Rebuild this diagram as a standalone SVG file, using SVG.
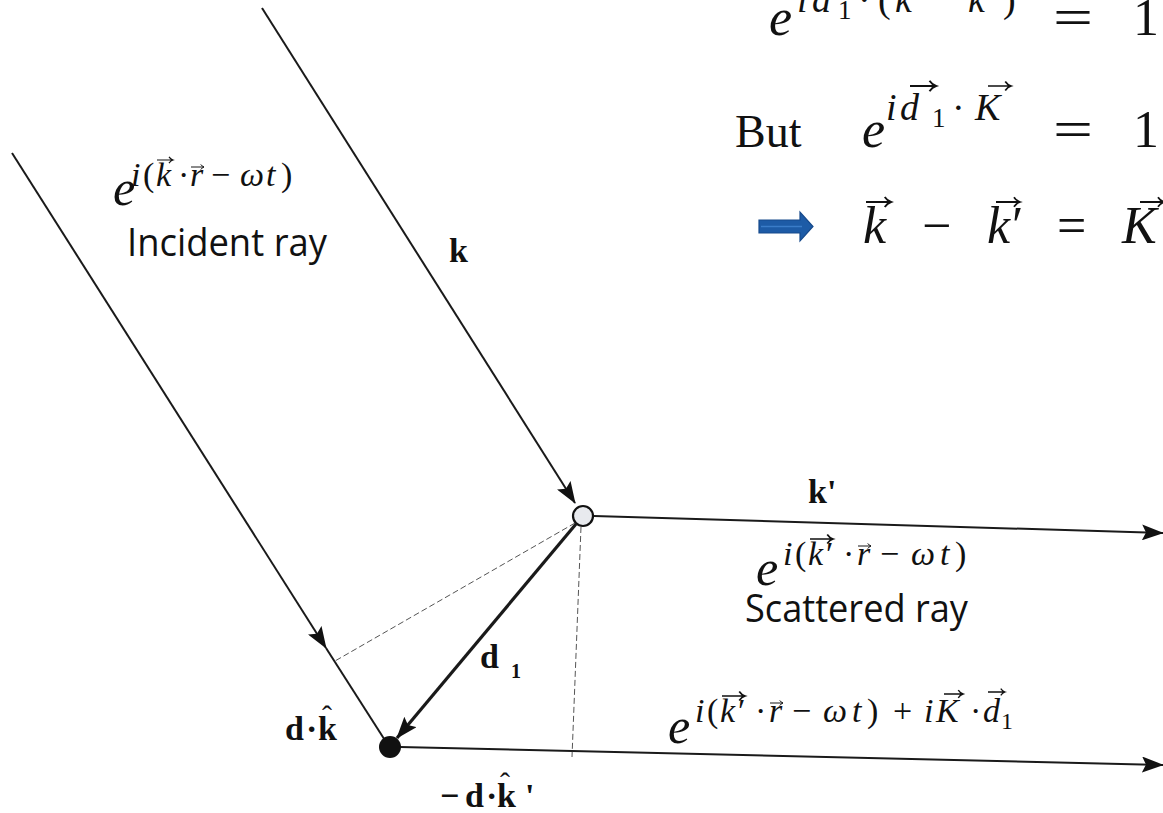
<svg xmlns="http://www.w3.org/2000/svg" xmlns:xlink="http://www.w3.org/1999/xlink" width="1163" height="813" viewBox="0 0 1163 813">
<style>
.m{font-family:"Liberation Serif",serif;font-style:italic;fill:#111}
.u{font-family:"Liberation Serif",serif;font-style:normal;fill:#111}
.b{font-family:"Liberation Serif",serif;font-weight:bold;fill:#111}
.s{font-family:"Open Sans",sans-serif;fill:#111}
.ln{stroke:#1a1a1a;stroke-width:2;fill:none}
.dash{stroke:#555;stroke-width:1;stroke-dasharray:6 3;fill:none}
</style>
<defs>
<marker id="ah" markerUnits="userSpaceOnUse" viewBox="0 0 22 16" refX="21" refY="8" markerWidth="22" markerHeight="16" orient="auto">
<path d="M0,0 L22,8 L0,16 L4,8 z" fill="#111"/>
</marker>
<path id="vec" d="M0,0 H20 M15,-4 Q17,-1 20,0 Q17,1 15,4" stroke="#111" stroke-width="1.5" fill="none"/>
</defs>
<rect width="1163" height="813" fill="#fff"/>

<g id="connectors">
<path class="ln" d="M12,153 L326,648" marker-end="url(#ah)"/>
<path class="ln" d="M326,648 L388,745"/>
<path class="ln" d="M262,8 L575,503" marker-end="url(#ah)"/>
<path class="ln" d="M594,516 L1163,533" marker-end="url(#ah)"/>
<path class="ln" d="M400,747 L1163,765" marker-end="url(#ah)"/>
<path class="ln" style="stroke-width:3.2" d="M576,524 L397,738" marker-end="url(#ah)"/>
<path class="dash" d="M575,523 L335,661"/>
<path class="dash" d="M581,527 L572,757"/>
</g>

<g id="scatterer1">
<circle cx="583" cy="516" r="10" fill="#e8eaee" stroke="#111" stroke-width="2.2"/>
</g>
<g id="scatterer0">
<circle cx="390" cy="747" r="11" fill="#111"/>
</g>

<g id="label-k"><text class="b" x="449" y="262" font-size="34">k</text></g>
<g id="label-kprime"><text class="b" x="808" y="503" font-size="34">k'</text></g>
<g id="label-d1">
<text class="b" x="480" y="668" font-size="34">d</text>
<text class="b" x="511" y="678" font-size="20">1</text>
</g>
<g id="label-dk">
<text class="b" font-size="34" y="740"><tspan x="285">d</tspan><tspan x="306">·</tspan><tspan x="318">k</tspan></text>
<text class="u" font-size="30" x="322" y="726">ˆ</text>
</g>
<g id="label-mdk">
<text class="b" font-size="34" y="807"><tspan x="440">−</tspan><tspan x="465">d</tspan><tspan x="486">·</tspan><tspan x="497">k</tspan><tspan x="525">'</tspan></text>
<text class="u" font-size="30" x="500" y="793">ˆ</text>
</g>

<g id="incident">
<text class="m" x="113" y="205" font-size="50">e</text>
<text font-size="34" y="186"><tspan class="m" x="131">i</tspan><tspan class="u" x="143">(</tspan><tspan class="m" x="156">k</tspan><tspan class="u" x="178">·</tspan><tspan class="m" x="190">r</tspan><tspan class="u" x="211">−</tspan><tspan class="m" x="240">ω</tspan><tspan class="m" x="266">t</tspan><tspan class="u" x="281">)</tspan></text>
<use xlink:href="#vec" transform="translate(157,160) scale(0.8)"/>
<use xlink:href="#vec" transform="translate(191,167) scale(0.65)"/>
<text class="s" x="127" y="256" font-size="38" textLength="200" lengthAdjust="spacingAndGlyphs">Incident ray</text>
</g>

<g id="scattered">
<text class="m" x="756" y="585" font-size="50">e</text>
<text font-size="34" y="565"><tspan class="m" x="783">i</tspan><tspan class="u" x="795">(</tspan><tspan class="m" x="808">k</tspan><tspan class="u" x="826">′</tspan><tspan class="u" x="843">·</tspan><tspan class="m" x="857">r</tspan><tspan class="u" x="880">−</tspan><tspan class="m" x="911">ω</tspan><tspan class="m" x="940">t</tspan><tspan class="u" x="955">)</tspan></text>
<use xlink:href="#vec" transform="translate(810,539) scale(1.15)"/>
<use xlink:href="#vec" transform="translate(858,546) scale(0.65)"/>
<text class="s" x="745" y="622" font-size="38" textLength="223" lengthAdjust="spacingAndGlyphs">Scattered ray</text>
</g>

<g id="phase-shifted">
<text class="m" x="668" y="743" font-size="50">e</text>
<text font-size="34" y="722"><tspan class="m" x="695">i</tspan><tspan class="u" x="707">(</tspan><tspan class="m" x="720">k</tspan><tspan class="u" x="738">′</tspan><tspan class="u" x="755">·</tspan><tspan class="m" x="769">r</tspan><tspan class="u" x="792">−</tspan><tspan class="m" x="823">ω</tspan><tspan class="m" x="852">t</tspan><tspan class="u" x="867">)</tspan><tspan class="u" x="893">+</tspan><tspan class="m" x="924">i</tspan><tspan class="m" x="936">K</tspan><tspan class="u" x="970">·</tspan><tspan class="m" x="983">d</tspan></text>
<text class="u" x="1001" y="729" font-size="24">1</text>
<use xlink:href="#vec" transform="translate(722,696) scale(1.15)"/>
<use xlink:href="#vec" transform="translate(770,703) scale(0.65)"/>
<use xlink:href="#vec" transform="translate(944,694) scale(0.95)"/>
<use xlink:href="#vec" transform="translate(988,692) scale(0.85)"/>
</g>

<g id="eq1">
<text class="m" x="769" y="35" font-size="52">e</text>
<text font-size="38" y="12"><tspan class="m" x="797">i</tspan><tspan class="m" x="812">d</tspan><tspan class="u" x="858">·</tspan><tspan class="u" x="878">(</tspan><tspan class="m" x="895">k</tspan><tspan class="u" x="935">−</tspan><tspan class="m" x="968">k</tspan><tspan class="u" x="988">′</tspan><tspan class="u" x="1003">)</tspan></text>
<text class="u" x="838" y="19" font-size="27">1</text>
<text class="u" x="1053" y="35" font-size="52" textLength="40" lengthAdjust="spacingAndGlyphs">=</text>
<text class="u" x="1133" y="35" font-size="52">1</text>
</g>

<g id="eq2">
<text class="u" x="735" y="147" font-size="46">But</text>
<text class="m" x="862" y="147" font-size="52">e</text>
<text font-size="38" y="120"><tspan class="m" x="886">i</tspan><tspan class="m" x="900">d</tspan><tspan class="u" x="952">·</tspan><tspan class="m" x="975">K</tspan></text>
<text class="u" x="932" y="127" font-size="27">1</text>
<use xlink:href="#vec" transform="translate(910,86) scale(1.3)"/>
<use xlink:href="#vec" transform="translate(988,86) scale(1.15)"/>
<text class="u" x="1053" y="147" font-size="52" textLength="40" lengthAdjust="spacingAndGlyphs">=</text>
<text class="u" x="1133" y="147" font-size="52">1</text>
</g>

<g id="eq3">
<path d="M759,220 H800 V212 L813,226.5 L800,241 V233 H759 z" fill="#1d5ba6" stroke="#174a8c" stroke-width="1.2"/>
<path d="M761,226.5 H802" stroke="#3a7cc8" stroke-width="1.5"/>
<text font-size="52" y="243"><tspan class="m" x="863">k</tspan><tspan class="u" x="922">−</tspan><tspan class="m" x="987">k</tspan><tspan class="u" x="1012">′</tspan><tspan class="u" x="1057">=</tspan><tspan class="m" x="1122">K</tspan></text>
<use xlink:href="#vec" transform="translate(866,202) scale(1.25)"/>
<use xlink:href="#vec" transform="translate(996,202) scale(1.2)"/>
<use xlink:href="#vec" transform="translate(1140,202) scale(1.2)"/>
</g>
</svg>
